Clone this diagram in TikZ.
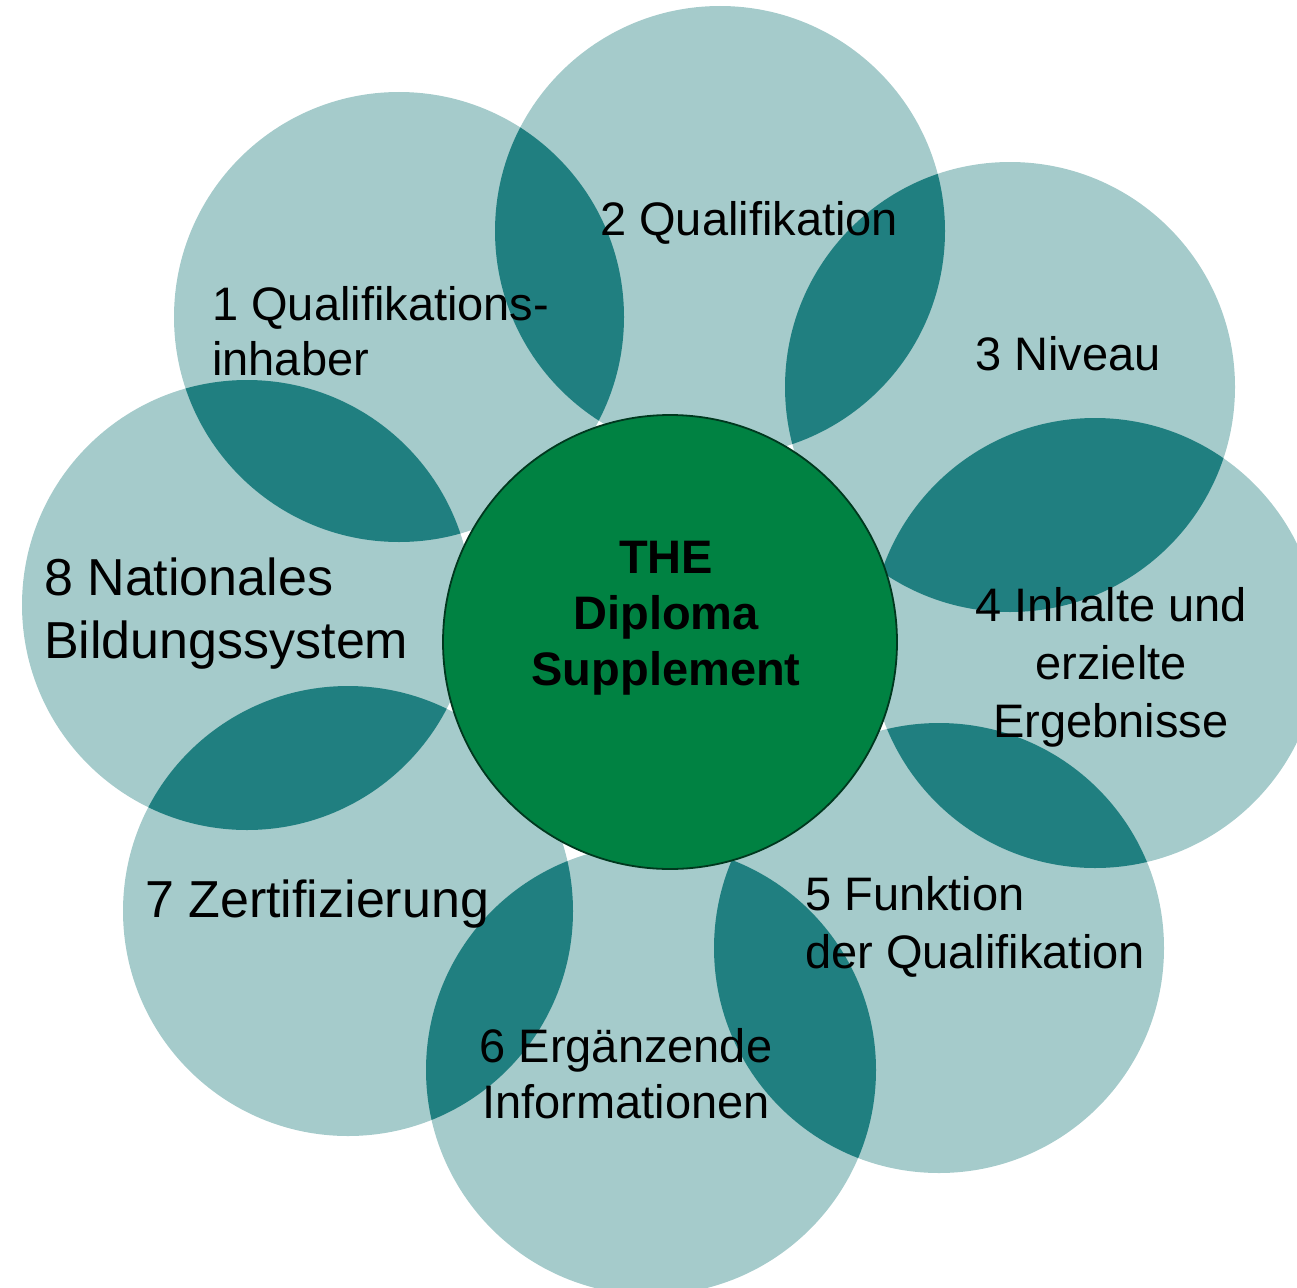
\documentclass[tikz,border=0pt]{standalone}
\usepackage{fontspec}
\setmainfont{Liberation Sans}
\begin{document}
\begin{tikzpicture}[x=1pt,y=-1pt,
  petal/.style={circle,minimum size=450pt,inner sep=0pt,fill=petalfill},
  hub/.style={circle,minimum size=454pt,inner sep=0pt,fill=hubfill,draw=hubline,line width=1.8pt},
  lens/.style={fill=lensfill},
  lbl/.style={inner sep=0pt,text=black,font=\fontsize{47}{57}\selectfont},
  biglbl/.style={inner sep=0pt,text=black,font=\fontsize{52}{63}\selectfont},
  hubtxt/.style={inner sep=0pt,text=black,align=center,font=\bfseries\fontsize{47}{56}\selectfont}]
\definecolor{petalfill}{RGB}{165,203,203}
\definecolor{lensfill}{RGB}{32,127,128}
\definecolor{hubfill}{RGB}{0,130,66}
\definecolor{hubline}{RGB}{0,56,30}

\useasboundingbox (0,0) rectangle (1297,1287);
\clip (0,0) rectangle (1297,1287);

% eight outer circles
\foreach \n/\cx/\cy in {1/399/317, 2/720/231, 3/1010/387, 4/1095/643,
                        5/939/948, 6/651/1070, 7/348/911, 8/247/605}
  \node[petal] (p\n) at (\cx,\cy) {};

% darker lens where neighbouring circles overlap
\foreach \a/\b in {1/2, 2/3, 3/4, 4/5, 5/6, 6/7, 7/8, 8/1} {
  \begin{scope}
    \clip (p\a.center) circle (225pt);
    \fill[lens] (p\b.center) circle (225pt);
  \end{scope}
}

% central circle (base anchors of multi-line nodes sit on the last line)
\node[hub] (hub) at (670,642) {};
\node[hubtxt,anchor=base] (hubtext) at (666,685) {THE\\Diploma\\Supplement};

% labels of the eight sections
\node[lbl,align=left,anchor=base west,font=\fontsize{47}{55}\selectfont] (t1) at (212,375) {1 Qualifikations-\\inhaber};
\node[lbl,anchor=base west] (t2) at (600,235) {2 Qualifikation};
\node[lbl,anchor=base west] (t3) at (975,370) {3 Niveau};
\node[lbl,align=center,anchor=base,font=\fontsize{47}{58}\selectfont] (t4) at (1111,737) {4 Inhalte und\\erzielte\\Ergebnisse};
\node[lbl,align=left,anchor=base west,font=\fontsize{47}{58}\selectfont] (t5) at (805,968) {5 Funktion\\der Qualifikation};
\node[lbl,align=center,anchor=base,font=\fontsize{47}{56}\selectfont] (t6) at (626,1118) {6 Ergänzende\\Informationen};
\node[biglbl,anchor=base west] (t7) at (145,917) {7 Zertifizierung};
\node[biglbl,align=left,anchor=base west] (t8) at (44,658) {8 Nationales\\Bildungssystem};
\end{tikzpicture}
\end{document}
